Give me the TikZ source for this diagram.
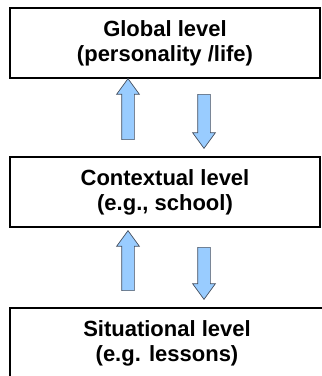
\documentclass[tikz,border=0pt]{standalone}
\usepackage{fontspec}
\setmainfont{Liberation Sans}
\usepackage{tikz}
\usetikzlibrary{positioning, shapes.arrows}
\definecolor{arrowfill}{RGB}{153,204,255}
\definecolor{arrowline}{RGB}{70,80,95}

\begin{document}
\begin{tikzpicture}[
  x=1pt, y=1pt,
  node distance=79pt,
  level/.style={draw, line width=1.6pt, minimum width=310pt,
    minimum height=70pt, inner sep=0pt, outer sep=0pt, align=center,
    font=\fontsize{22}{25}\selectfont\bfseries},
  blockarrow/.style={single arrow, draw=arrowline, fill=arrowfill,
    line width=0.7pt, inner sep=6pt, outer sep=0pt,
    single arrow head extend=5pt, single arrow tip angle=72},
  uparrow/.style={blockarrow, rotate=90},
  downarrow/.style={blockarrow, rotate=-90},
]
  \useasboundingbox (0,0) rectangle (322,376);

  % Levels, top to bottom
  \node (global) [level] at (165,333) {Global level\\(personality /life)};
  \node (context) [level, below=of global] {Contextual level\\(e.g., school)};
  \node (situation) [level, minimum width=314pt, xshift=2pt,
    below=81pt of context] {Situational level\\(e.g. lessons)};

  % Arrows between global and contextual level
  \node (up1) [uparrow, minimum height=61pt] at (128,262.5) {};
  \node (down1) [downarrow, minimum height=54pt] at (204,259) {};

  % Arrows between contextual and situational level
  \node (up2) [uparrow, minimum height=60pt] at (128,111) {};
  \node (down2) [downarrow, minimum height=52pt] at (204,107) {};

\end{tikzpicture}
\end{document}
